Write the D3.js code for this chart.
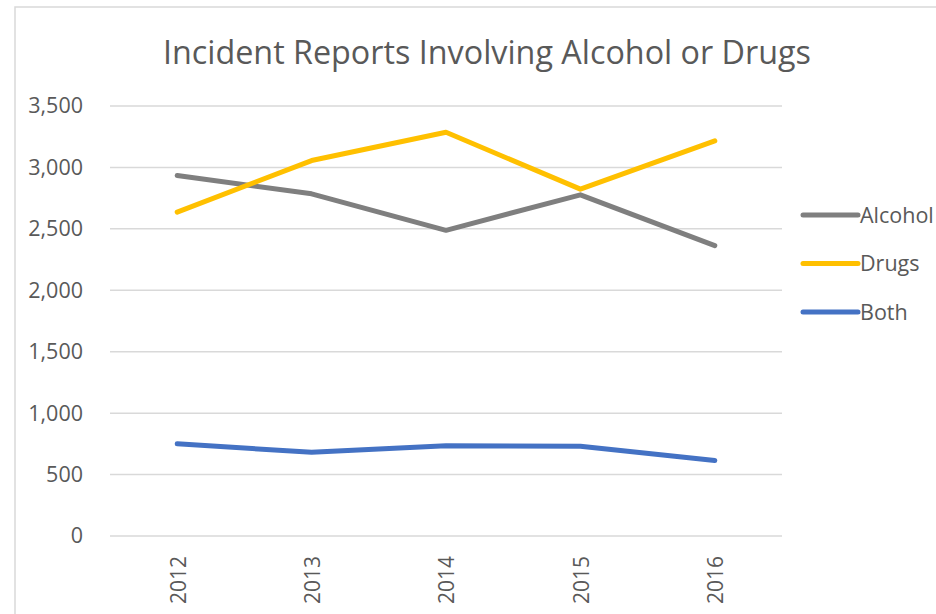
<!DOCTYPE html>
<html>
<head>
<meta charset="utf-8">
<script src="https://cdn.jsdelivr.net/npm/d3@7/dist/d3.min.js"></script>
<style>
  html, body { margin: 0; padding: 0; background: #fff; }
  svg { display: block; }
  text { font-family: "Open Sans", "Liberation Sans", sans-serif; fill: #595959; }
</style>
</head>
<body>
<svg id="chart" width="936" height="614"></svg>
<script>
// Yearly incident counts
const years = ["2012", "2013", "2014", "2015", "2016"];
const alcohol = [2934, 2785, 2488, 2777, 2364];
const drugs = [2636, 3056, 3286, 2823, 3216];
const both = [750, 681, 735, 730, 614];
const yTicks = [0, 500, 1000, 1500, 2000, 2500, 3000, 3500];
const seriesNames = ["Alcohol", "Drugs", "Both"];
const seriesColors = ["#7f7f7f", "#ffc000", "#4472c4"];

const series = [alcohol, drugs, both].map((vals, i) => ({
  name: seriesNames[i],
  color: seriesColors[i],
  values: vals.map((v, j) => ({ year: years[j], value: v }))
}));

const svg = d3.select("#chart");

// Chart area frame
svg.append("rect")
  .attr("x", 15).attr("y", 7)
  .attr("width", 1000).attr("height", 700)
  .attr("fill", "none")
  .attr("stroke", "#d9d9d9")
  .attr("stroke-width", 1.5);

const plot = { left: 110, right: 782, top: 106, bottom: 536 };

const x = d3.scaleBand().domain(years).range([plot.left, plot.right]).padding(0);
const y = d3.scaleLinear().domain([0, 3500]).range([plot.bottom, plot.top]);
const cx = d => x(d) + x.bandwidth() / 2;

// Title
svg.append("text")
  .attr("x", 487).attr("y", 64)
  .attr("text-anchor", "middle")
  .style("font-size", "32.3px")
  .text("Incident Reports Involving Alcohol or Drugs");

// Gridlines
svg.append("g").selectAll("line").data(yTicks).join("line")
  .attr("x1", plot.left).attr("x2", plot.right)
  .attr("y1", d => y(d)).attr("y2", d => y(d))
  .attr("stroke", "#d9d9d9").attr("stroke-width", 1.5);

// Y axis labels
const yAxis = d3.axisLeft(y).tickValues(yTicks).tickFormat(d3.format(",")).tickSize(0).tickPadding(27);
const gy = svg.append("g").attr("transform", `translate(${plot.left},0)`).call(yAxis);
gy.select(".domain").remove();
gy.selectAll("text").style("font-size", "21.5px").attr("fill", "#595959");

// X axis labels, rotated
const xAxis = d3.axisBottom(x).tickSize(0).tickPadding(0);
const gx = svg.append("g").attr("transform", `translate(0,${plot.bottom})`).call(xAxis);
gx.select(".domain").remove();
gx.selectAll("text")
  .style("font-size", "21px")
  .attr("fill", "#595959")
  .attr("text-anchor", "end")
  .attr("transform", "translate(1,20) rotate(-90)")
  .attr("x", 0).attr("y", 0).attr("dy", "0.35em");

// Series lines
const line = d3.line().x(d => cx(d.year)).y(d => y(d.value));
svg.append("g").selectAll("path").data(series).join("path")
  .attr("d", d => line(d.values))
  .attr("fill", "none")
  .attr("stroke", d => d.color)
  .attr("stroke-width", 5)
  .attr("stroke-linecap", "round")
  .attr("stroke-linejoin", "round");

// Legend
const legend = svg.append("g").selectAll("g").data(series).join("g")
  .attr("transform", (d, i) => `translate(803,${215 + i * 48.5})`);
legend.append("line")
  .attr("x1", 0).attr("x2", 55)
  .attr("stroke", d => d.color)
  .attr("stroke-width", 5)
  .attr("stroke-linecap", "round");
legend.append("text")
  .attr("x", 57).attr("dy", "0.35em")
  .style("font-size", "21.5px")
  .text(d => d.name);
</script>
</body>
</html>
